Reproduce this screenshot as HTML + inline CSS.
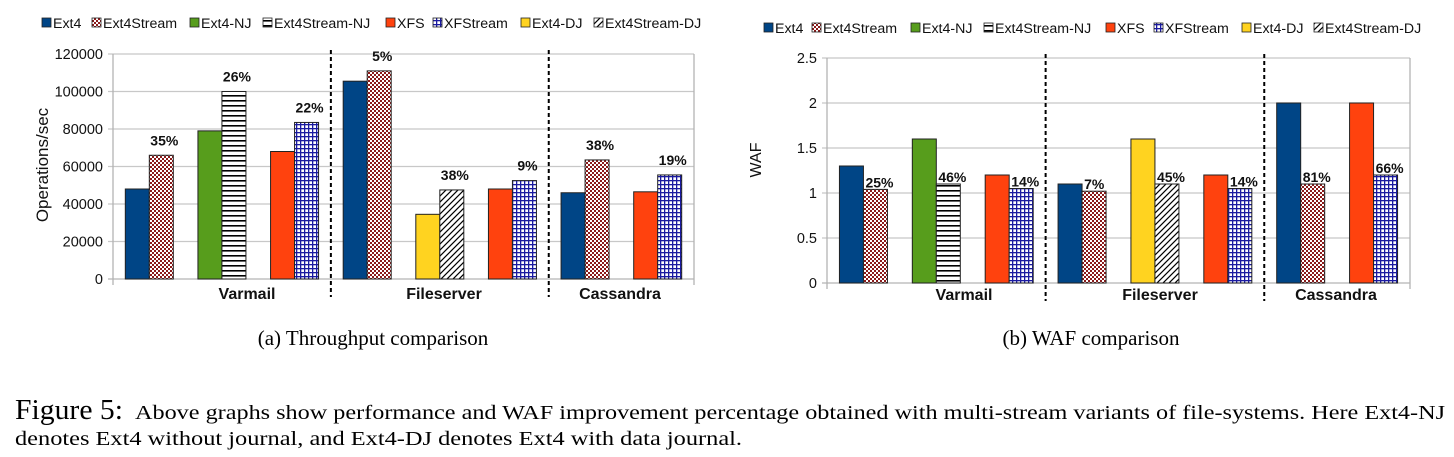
<!DOCTYPE html>
<html><head><meta charset="utf-8"><style>
html,body{margin:0;padding:0;background:#fff;width:1454px;height:457px;overflow:hidden}
svg text{font-family:"Liberation Sans",sans-serif}
.serif{font-family:"Liberation Serif",serif}
</style></head><body>
<svg id="fig" width="1454" height="457" xmlns="http://www.w3.org/2000/svg">
<defs>
<pattern id="p-ext4stream" width="4" height="4" patternUnits="userSpaceOnUse"><rect width="4" height="4" fill="#fff"/><rect width="2" height="2" fill="#8b1a1a"/><rect x="2" y="2" width="2" height="2" fill="#8b1a1a"/></pattern>
<pattern id="p-ext4streamnj" width="6" height="5" patternUnits="userSpaceOnUse"><rect width="6" height="5" fill="#fff"/><rect y="0" width="6" height="1.6" fill="#000"/></pattern>
<pattern id="p-xfstream" width="4" height="4" patternUnits="userSpaceOnUse"><rect width="4" height="4" fill="#fff"/><rect width="4" height="1.3" fill="#1a1aa0"/><rect width="1.3" height="4" fill="#1a1aa0"/></pattern>
<pattern id="p-ext4streamdj" width="6" height="6" patternUnits="userSpaceOnUse"><rect width="6" height="6" fill="#fff"/><path d="M-1,7 L7,-1 M-1,1 L1,-1 M5,7 L7,5" stroke="#000" stroke-width="1.2"/></pattern>
</defs>
<g id="chartA"></g>
<g id="chartB"></g>
<text class="serif" x="373" y="345" font-size="21" text-anchor="middle">(a)  Throughput comparison</text>
<text class="serif" x="1091" y="345" font-size="21" text-anchor="middle">(b)  WAF comparison</text>
<text class="serif" x="15" y="419" font-size="28" textLength="108" lengthAdjust="spacingAndGlyphs">Figure 5:</text>
<text class="serif" x="135" y="419" font-size="20.5" textLength="1310" lengthAdjust="spacingAndGlyphs">Above graphs show performance and WAF improvement percentage obtained with multi-stream variants of file-systems. Here Ext4-NJ</text>
<text class="serif" x="15" y="445" font-size="20.5" textLength="727" lengthAdjust="spacingAndGlyphs">denotes Ext4 without journal, and Ext4-DJ denotes Ext4 with data journal.</text>
</svg>
<script>
const seriesNames = ["Ext4","Ext4Stream","Ext4-NJ","Ext4Stream-NJ","XFS","XFStream","Ext4-DJ","Ext4Stream-DJ"];
const seriesFills = ["#004586","url(#p-ext4stream)","#579d1c","url(#p-ext4streamnj)","#ff420e","url(#p-xfstream)","#ffd320","url(#p-ext4streamdj)"];
const workloads = ["Varmail","Fileserver","Cassandra"];
// slot pairs: [baseSeries, streamSeries]
const slotSeries = [[0,1],[2,3],[4,5],[0,1],[6,7],[4,5],[0,1],[4,5]];
const thrBase = [48000,79000,68000,105500,34500,48000,46000,46500];
const thrStream = [66000,100000,83500,111000,47500,52500,63500,55500];
const thrPct = ["35%","26%","22%","5%","38%","9%","38%","19%"];
const thrTicks = [0,20000,40000,60000,80000,100000,120000];
const wafBase = [1.3,1.6,1.2,1.1,1.6,1.2,2.0,2.0];
const wafStream = [1.04,1.1,1.05,1.02,1.1,1.05,1.1,1.2];
const wafPct = ["25%","46%","14%","7%","45%","14%","81%","66%"];
const wafTicks = [0,0.5,1,1.5,2,2.5];

const NS="http://www.w3.org/2000/svg";
function mk(parent,tag,attrs,text){const e=document.createElementNS(NS,tag);for(const k in attrs)e.setAttribute(k,attrs[k]);if(text!==undefined)e.textContent=text;parent.appendChild(e);return e;}

function draw(g,cfg){
  const {x0,x1,yTop,yBot,max,ticks,base,stream,pct,fmt,legendX,legendY,catX,catY,title,titleX,titleY,pctMode}=cfg;
  const slotW=(x1-x0)/8, bw=24, pad=(slotW-2*bw)/2;
  const ys=v=>yBot-(v/max)*(yBot-yTop);
  ticks.forEach(t=>{
    const y=ys(t);
    const l=mk(g,'line',{x1:x0-5,x2:x1,y1:y,y2:y,stroke:t===0?'#b3b3b3':'#c8c8c8','stroke-width':1.3});
    
    
    const tx=mk(g,'text',{x:x0-10,y:y+5,'font-size':14.5,'text-anchor':'end',fill:'#111'},fmt(t));
    
    
  });
  const ax=mk(g,'line',{x1:x0,x2:x0,y1:yTop,y2:yBot+6,stroke:'#b3b3b3','stroke-width':1.3});
  
  
  const ax2=mk(g,'line',{x1:x1,x2:x1,y1:yTop,y2:yBot+6,stroke:'#b3b3b3','stroke-width':1.3});
  
  
  [3,6].forEach(s=>{
    const x=x0+s*slotW;
    const d=mk(g,'line',{x1:x,x2:x,y1:yTop-4,y2:yBot+18,stroke:'#000','stroke-width':2,'stroke-dasharray':'4,3'});
    
    
  });
  for(let i=0;i<8;i++){
    const [sa,sb]=slotSeries[i];
    const xa=x0+i*slotW+pad, xb=xa+bw;
    const ya=ys(base[i]), yb=ys(stream[i]);
    const ra=mk(g,'rect',{x:xa,y:ya,width:bw,height:yBot-ya,fill:seriesFills[sa],stroke:'#222','stroke-width':1});
    
    
    const rb=mk(g,'rect',{x:xb,y:yb,width:bw,height:yBot-yb,fill:seriesFills[sb],stroke:'#222','stroke-width':1});
    
    
    const lp = pctMode==='above' ? {x:xb+bw/2+3,y:yb-10,a:'middle'} : {x:xb+2,y:yb-2,a:'start'};
    const pt=mk(g,'text',{x:lp.x,y:lp.y,'font-size':14,'font-weight':'bold','text-anchor':lp.a,fill:'#111'},pct[i]);
    
    
  }
  workloads.forEach((w,i)=>{
    const t=mk(g,'text',{x:catX[i],y:catY,'font-size':16,'font-weight':'bold','text-anchor':'middle',fill:'#111'},w);
    
    
  });
  const tt=mk(g,'text',{x:titleX,y:titleY,'font-size':cfg.titleSize,'text-anchor':'middle',fill:'#111',transform:`rotate(-90 ${titleX} ${titleY})`},title);
  
  
  seriesNames.forEach((n,i)=>{
    const lx=legendX[i];
    const le=mk(g,'g',{});
    
    
    mk(le,'rect',{x:lx,y:legendY-5,width:9,height:9,fill:seriesFills[i],stroke:'#222','stroke-width':0.8});
    mk(le,'text',{x:lx+11,y:legendY+5,'font-size':14.2,fill:'#111'},n);
  });
}
draw(document.getElementById('chartA'),{x0:113,x1:694,yTop:54,yBot:279,max:120000,ticks:thrTicks,base:thrBase,stream:thrStream,pct:thrPct,fmt:t=>String(t),
  legendX:[42,92,190,263,386,433,521,594],legendY:23,catX:[247,444,620],catY:299,title:'Operations/sec',titleX:48,titleY:165,titleSize:17,pctMode:'above'});
draw(document.getElementById('chartB'),{x0:827,x1:1410,yTop:58,yBot:283,max:2.5,ticks:wafTicks,base:wafBase,stream:wafStream,pct:wafPct,fmt:t=>String(t),
  legendX:[764,812,911,984,1106,1154,1242,1314],legendY:28,catX:[964,1160,1336],catY:300,title:'WAF',titleX:761,titleY:160,titleSize:16,pctMode:'right'});
</script>
</body></html>
